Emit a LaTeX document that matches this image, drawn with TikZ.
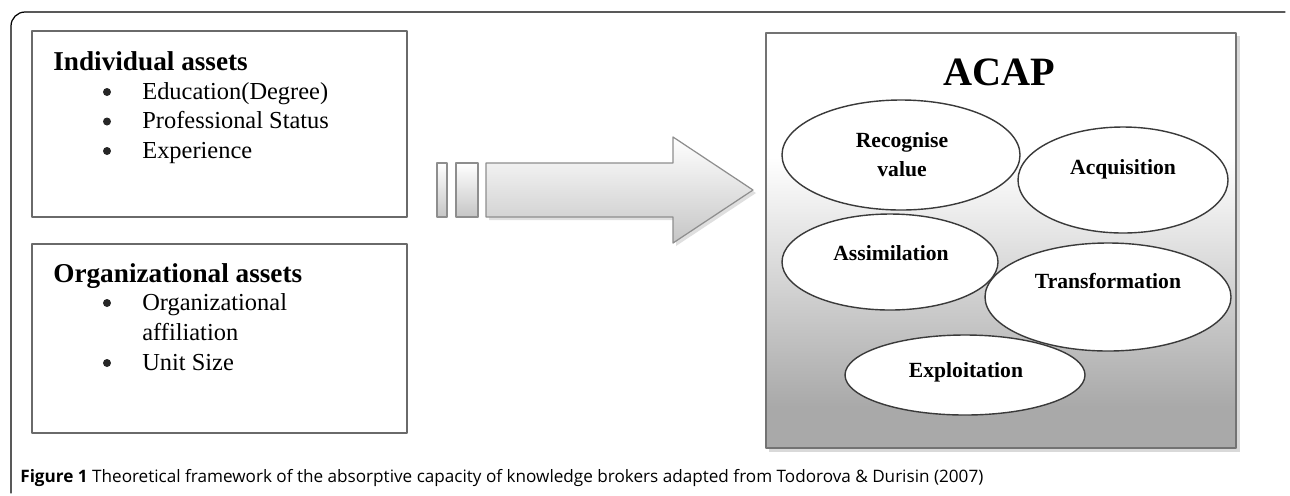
\documentclass[tikz,border=0pt]{standalone}
\usepackage{fontspec}
\setmainfont{Liberation Serif}
\newfontfamily\capfont{Open Sans}
\usetikzlibrary{calc}
\definecolor{boxgray}{HTML}{6A6A6A}
\definecolor{framegray}{HTML}{737373}
\definecolor{shadegray}{HTML}{A9A9A9}
\definecolor{arrowgray}{HTML}{8E8E8E}
\definecolor{ellgray}{HTML}{3A3A3A}
\pgfdeclareverticalshading{acapshade}{100bp}{color(0bp)=(shadegray); color(30bp)=(shadegray); color(60bp)=(white); color(100bp)=(white)}
\tikzset{
    assetbox/.style={draw=boxgray, line width=1.1pt},
    head/.style={anchor=base west, inner sep=0pt,
        font=\fontsize{15.5}{18}\selectfont\bfseries},
    item/.style={anchor=base west, inner sep=0pt,
        font=\fontsize{13.9}{16}\selectfont},
    bul/.style={circle, fill=black!85, inner sep=0pt, minimum size=0.16cm},
    arrowbody/.style={draw=arrowgray, line width=0.7pt, top color=white, bottom color=gray!45},
    acapbox/.style={draw=framegray, line width=1.2pt, shading=acapshade},
    acapell/.style={draw=ellgray, line width=0.8pt},
    acaplab/.style={anchor=base, inner sep=0pt,
        font=\fontsize{12.3}{14}\selectfont\bfseries}
}

\begin{document}
\begin{tikzpicture}[x=0.02cm, y=-0.02cm, line cap=round, line join=round]

\useasboundingbox (0,0) rectangle (1290,495);

% outer frame
\draw[line width=0.7pt, rounded corners=8] (11,493) -- (11,12) -- (1285,12);

% individual assets
\draw[assetbox] (32,31) rectangle (407,217);
\node[head] (indiv) at (53,70) {Individual assets};
\foreach \yy/\txt [count=\i] in {99/Education(Degree), 128.5/Professional Status, 158/Experience} {
  \node[bul] (ib\i) at (107,\yy-7) {};
  \node[item] (ii\i) at (142,\yy) {\txt};
}

% organizational assets
\draw[assetbox] (32,244) rectangle (407,433);
\node[head] (orga) at (53,282) {Organizational assets};
\node[bul] (ob1) at (107,303) {};
\node[item] (oi1) at (142,310) {Organizational};
\node[item] (oi2) at (142,340) {affiliation};
\node[bul] (ob2) at (107,363) {};
\node[item] (oi3) at (142,370) {Unit Size};

% block arrow
\fill[gray!25] (489,166) -- (676,166) -- (676,140) -- (756,193) -- (676,246) -- (676,220) -- (489,220) -- cycle;
\foreach \xa/\xb in {437/447, 456/478} {
  \draw[arrowbody] (\xa,163) rectangle (\xb,217);
}
\draw[arrowbody] (486,163) -- (673,163) -- (673,137) -- (753,190) -- (673,243) -- (673,217) -- (486,217) -- cycle;

% ACAP
\fill[gray!30] (769,36) rectangle (1240,452);
\draw[acapbox] (766,33) rectangle (1236,448);
\node[anchor=base, inner sep=0pt, font=\fontsize{22.9}{26}\selectfont\bfseries] (acap) at (999,85) {ACAP};

\foreach \cx/\cy/\rx/\ry in {901/155/119/55, 1123/180/105/53, 890/262/108/48, 1108/297/123/54, 965/375/120/40} {
  \fill[white] (\cx,\cy) ellipse [x radius=\rx, y radius=\ry];
}
\foreach \cx/\cy/\rx/\ry in {901/155/119/55, 1123/180/105/53, 890/262/108/48, 1108/297/123/54, 965/375/120/40} {
  \draw[acapell] (\cx,\cy) ellipse [x radius=\rx, y radius=\ry];
}

\node[acaplab] (recog) at (902,147) {Recognise};
\node[acaplab] (value) at (902,176) {value};
\node[acaplab] (acqui) at (1123,174) {Acquisition};
\node[acaplab] (assim) at (891,260) {Assimilation};
\node[acaplab] (trans) at (1108,288) {Transformation};
\node[acaplab] (explo) at (966,377) {Exploitation};

% caption
\node[anchor=base west, inner sep=0pt, font=\capfont\fontsize{9.75}{11}\selectfont] (caption) at (20,482)
  {\textbf{Figure 1} Theoretical framework of the absorptive capacity of knowledge brokers adapted from Todorova \& Durisin (2007)};

\end{tikzpicture}
\end{document}
